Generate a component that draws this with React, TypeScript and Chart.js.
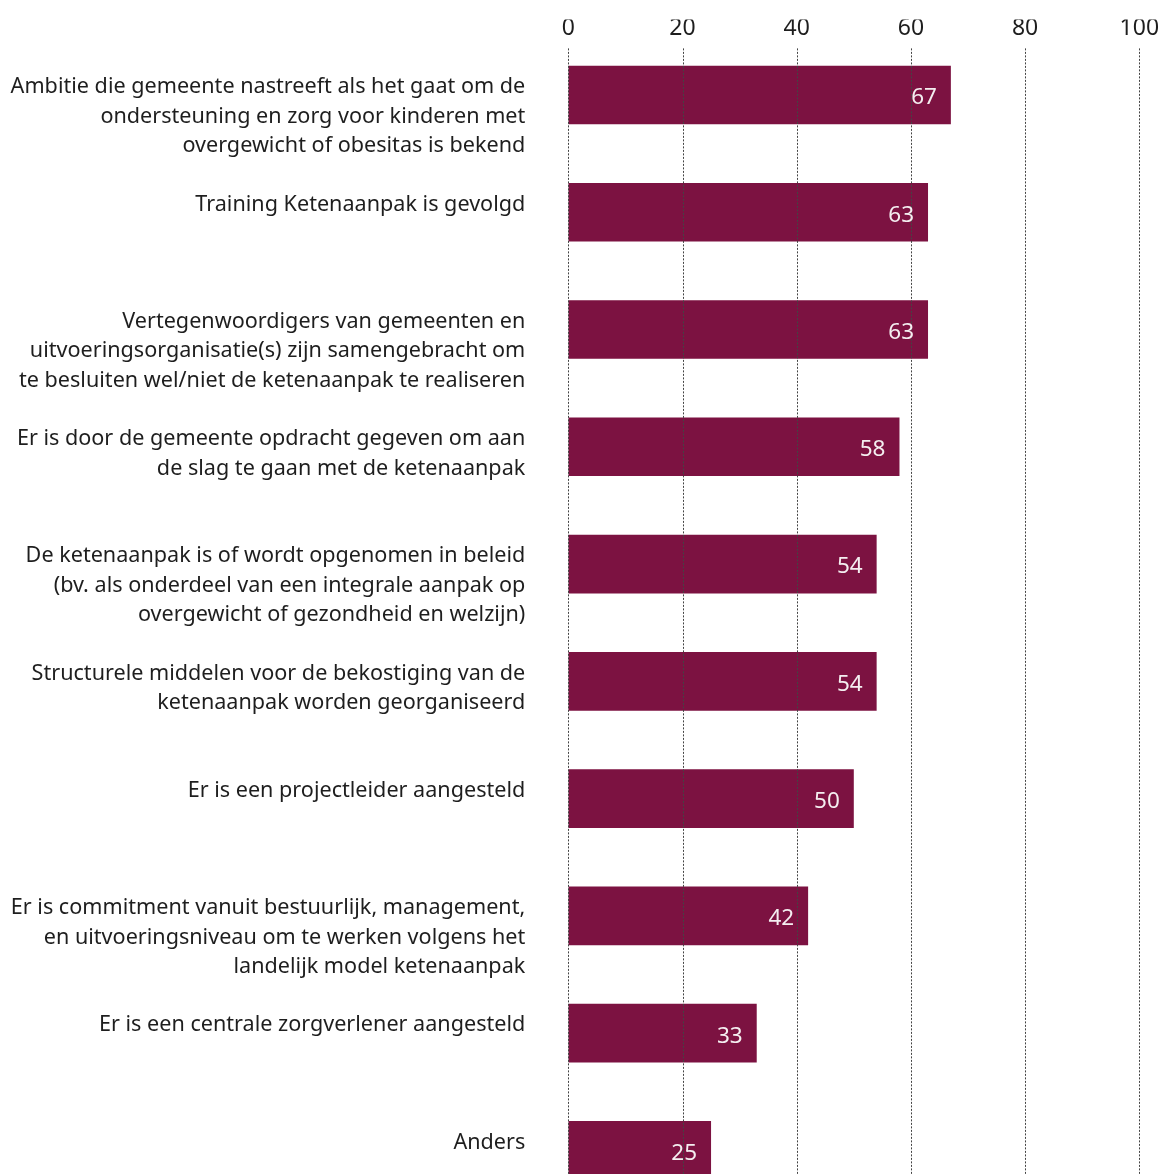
import React, { useEffect, useRef } from "react";
import { Chart, registerables } from "chart.js";

Chart.register(...registerables);

const categories: string[][] = [
  ["Ambitie die gemeente nastreeft als het gaat om de", "ondersteuning en zorg voor kinderen met", "overgewicht of obesitas is bekend"],
  ["Training Ketenaanpak is gevolgd"],
  ["Vertegenwoordigers van gemeenten en", "uitvoeringsorganisatie(s) zijn samengebracht om", "te besluiten wel/niet de ketenaanpak te realiseren"],
  ["Er is door de gemeente opdracht gegeven om aan", "de slag te gaan met de ketenaanpak"],
  ["De ketenaanpak is of wordt opgenomen in beleid", "(bv. als onderdeel van een integrale aanpak op", "overgewicht of gezondheid en welzijn)"],
  ["Structurele middelen voor de bekostiging van de", "ketenaanpak worden georganiseerd"],
  ["Er is een projectleider aangesteld"],
  ["Er is commitment vanuit bestuurlijk, management,", "en uitvoeringsniveau om te werken volgens het", "landelijk model ketenaanpak"],
  ["Er is een centrale zorgverlener aangesteld"],
  ["Anders"],
];

const values: number[] = [67, 63, 63, 58, 54, 54, 50, 42, 33, 25];

const xMin = 0;
const xMax = 100;
const xStep = 20;

const FONT = "'Noto Sans', sans-serif";
const BAR_COLOR = "#7C1241";
const TEXT_COLOR = "#1e1e1e";

const labelPlugin = {
  id: "sideLabels",
  afterDatasetsDraw(chart: any) {
    const ctx = chart.ctx;
    const meta = chart.getDatasetMeta(0);
    const area = chart.chartArea;
    const xScale = chart.scales.x;
    ctx.save();
    // dotted grid lines on top of bars
    ctx.strokeStyle = "#444";
    ctx.lineWidth = 1;
    ctx.setLineDash([2, 1.5]);
    xScale.ticks.forEach((t: any) => {
      const px = Math.round(xScale.getPixelForValue(t.value)) + 0.5;
      ctx.beginPath();
      ctx.moveTo(px, area.top + 12);
      ctx.lineTo(px, area.bottom);
      ctx.stroke();
    });
    ctx.setLineDash([]);
    // category labels
    ctx.font = `21.6px ${FONT}`;
    ctx.fillStyle = TEXT_COLOR;
    ctx.textAlign = "right";
    ctx.textBaseline = "middle";
    meta.data.forEach((el: any, i: number) => {
      const top = el.y - el.height / 2;
      categories[i].forEach((line, k) => {
        ctx.fillText(line, area.left - 43, top + 21.5 + k * 29.4);
      });
    });
    // value labels
    ctx.fillStyle = "#f4eef0";
    ctx.font = `22.5px ${FONT}`;
    meta.data.forEach((el: any, i: number) => {
      ctx.fillText(String(values[i]), el.x - 14, el.y + 3);
    });
    ctx.restore();
  },
};

export default function App() {
  const ref = useRef<HTMLCanvasElement>(null);
  useEffect(() => {
    if (!ref.current) return;
    const chart = new Chart(ref.current, {
      type: "bar",
      data: {
        labels: categories.map((c) => c.join(" ")),
        datasets: [
          {
            data: values,
            backgroundColor: BAR_COLOR,
            borderWidth: 0,
            barPercentage: 0.5,
            categoryPercentage: 1,
          },
        ],
      },
      options: {
        indexAxis: "y",
        responsive: false,
        animation: false,
        layout: { padding: { left: 568.3, right: 22.7, top: 19.6, bottom: 0 } },
        plugins: {
          legend: { display: false },
          tooltip: { enabled: false },
        },
        scales: {
          x: {
            position: "top",
            min: xMin,
            max: xMax,
            border: { display: false },
            grid: { display: false, drawTicks: false },
            ticks: {
              stepSize: xStep,
              padding: 0,
              color: TEXT_COLOR,
              font: { family: FONT, size: 23, lineHeight: 0.73 },
            },
          },
          y: {
            display: false,
          },
        },
      },
      plugins: [labelPlugin],
    });
    return () => chart.destroy();
  }, []);
  return (
    <div style={{ position: "absolute", top: 0, left: 0, width: 1162, height: 1174, overflow: "hidden", background: "#fff" }}>
      <canvas ref={ref} width={1162} height={1209} style={{ display: "block" }} />
    </div>
  );
}
